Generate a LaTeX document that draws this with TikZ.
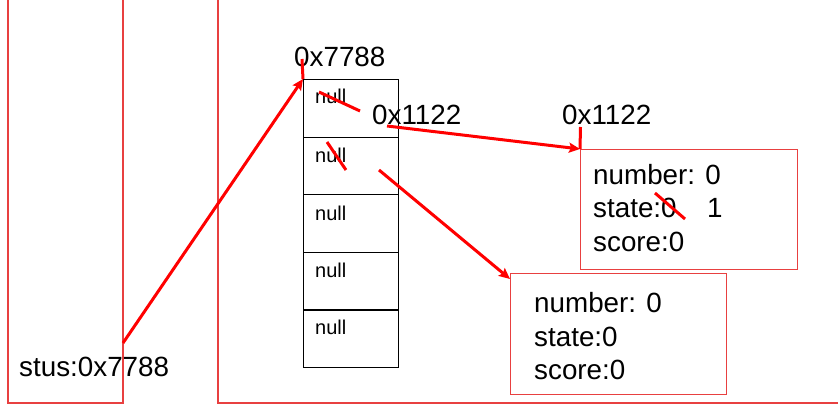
\documentclass[tikz,border=0pt]{standalone}
\usepackage{fontspec}
\setmainfont{Liberation Sans}
\usetikzlibrary{arrows.meta}
\definecolor{framered}{RGB}{232,64,64}
\definecolor{inkred}{RGB}{255,0,0}
\begin{document}
\begin{tikzpicture}[x=1pt,y=-1pt,
  frame/.style={draw=framered,line width=1.3pt},
  cellbox/.style={draw=black,line width=1.2pt,minimum width=95pt,minimum height=57.6pt,inner sep=0pt,anchor=north west},
  objbox/.style={draw=framered,line width=1.3pt,inner sep=0pt,anchor=north west},
  lbl/.style={font=\fontsize{27.8}{30}\selectfont,inner sep=0pt,anchor=base west},
  nulllbl/.style={font=\fontsize{20}{24}\selectfont,inner sep=0pt,anchor=base west},
  redline/.style={draw=inkred,line width=3pt},
  redarrow/.style={draw=inkred,line width=3pt,-{Stealth[length=11pt,width=10pt,inset=2pt]}},
  strike/.style={draw=inkred,line width=3pt}]
\useasboundingbox (0,0) rectangle (838,411);
% stack and heap frames
\draw[frame] (8,-5) rectangle (123,403);
\draw[frame] (218,-5) rectangle (850,403);
% array cells
\node[cellbox] (c1) at (303,79) {};
\node[cellbox] (c2) at (303,136.6) {};
\node[cellbox] (c3) at (303,194.2) {};
\node[cellbox] (c4) at (303,251.8) {};
\node[cellbox] (c5) at (303,309.4) {};
\node[nulllbl] (n1) at (315,104) {null};
\node[nulllbl] (n2) at (315,163) {null};
\node[nulllbl] (n3) at (315,221) {null};
\node[nulllbl] (n4) at (315,278) {null};
\node[nulllbl] (n5) at (315,335) {null};
% objects
\node[objbox,minimum width=217pt,minimum height=120pt] (o1) at (580,149) {};
\node[objbox,minimum width=216pt,minimum height=121pt] (o2) at (510,273) {};
\node[lbl] (o1a) at (593,185) {number: 0};
\node[lbl] (o1b) at (593,218) {state:0};
\node[lbl] (o1c) at (707,218) {1};
\node[lbl] (o1d) at (593,252) {score:0};
\node[lbl] (o2a) at (534,313) {number: 0};
\node[lbl] (o2b) at (534,347) {state:0};
\node[lbl] (o2c) at (534,380) {score:0};
% labels
\node[lbl] (addr7788) at (294,67) {0x7788};
\node[lbl] (ref1122) at (372,125) {0x1122};
\node[lbl] (addr1122) at (562,125) {0x1122};
\node[lbl] (stus) at (19,377) {stus:0x7788};
% connectors
\coordinate (stusout) at (123,343);
\coordinate (top7788) at (302,59);
\coordinate (from1122) at (387,126);
\coordinate (top1122) at (580.5,127);
\coordinate (fromnull2) at (379,170);
\coordinate (o2in) at (510,279);
\draw[redline] (top7788) -- (c1.north west);
\draw[redarrow] (stusout) -- (c1.north west);
\draw[redline] (top1122) -- (o1.north west);
\draw[redarrow] (from1122) -- (o1.north west);
\draw[redarrow] (fromnull2) -- (o2in);
% strike-throughs
\draw[strike] (319,92) -- (360,111);
\draw[strike] (327,142) -- (346,170);
\draw[strike] (655,193) -- (685,219);
\end{tikzpicture}
\end{document}
